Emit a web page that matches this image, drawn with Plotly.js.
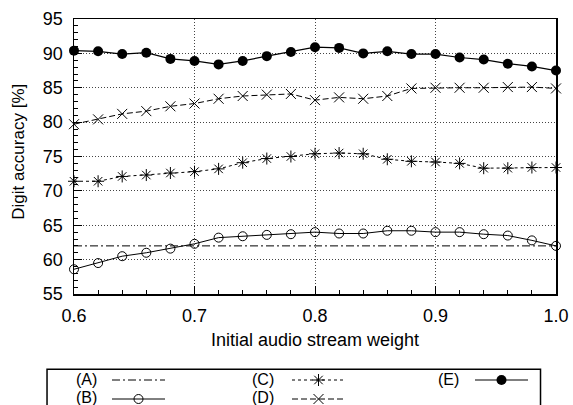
<!DOCTYPE html>
<html>
<head>
<meta charset="utf-8">
<script src="https://cdn.plot.ly/plotly-3.0.1.min.js"></script>
<style>html,body{margin:0;padding:0;background:#fff;}#chart{width:573px;height:405px;}</style>
</head>
<body>
<div id="chart"></div>
<script>
// Data
const weights = [0.60,0.62,0.64,0.66,0.68,0.70,0.72,0.74,0.76,0.78,0.80,0.82,0.84,0.86,0.88,0.90,0.92,0.94,0.96,0.98,1.00];
const seriesA_x = [0.60, 1.00];
const seriesA = [62.0, 62.0];
const seriesB = [58.6,59.5,60.5,61.0,61.6,62.3,63.2,63.4,63.6,63.7,64.0,63.8,63.8,64.2,64.2,64.0,64.0,63.7,63.5,62.8,62.0];
const seriesC = [71.4,71.4,72.1,72.3,72.6,72.8,73.2,74.1,74.7,75.0,75.4,75.5,75.4,74.6,74.3,74.2,74.0,73.3,73.3,73.4,73.4];
const seriesD = [79.7,80.4,81.2,81.6,82.3,82.7,83.4,83.8,84.0,84.1,83.2,83.6,83.4,83.8,84.9,85.0,85.0,85.0,85.1,85.1,84.9];
const seriesE = [90.4,90.3,89.9,90.1,89.2,88.9,88.4,88.9,89.6,90.2,90.9,90.8,90.0,90.3,89.9,89.9,89.4,89.1,88.5,88.1,87.5];
const labels = ['(A)','(B)','(C)','(D)','(E)'];
const xTitle = 'Initial audio stream weight';
const yTitle = 'Digit accuracy [%]';

const FONT = 'Liberation Sans, Arial, Helvetica, sans-serif';
const blk = '#000';

const traces = [
  {x: seriesA_x, y: seriesA, mode: 'lines', name: '', legend: 'legend',
   line: {color: blk, width: 1, dash: '8px,3px,2px,3px'}, cliponaxis: false},
  {x: weights, y: seriesB, mode: 'lines+markers', name: '', legend: 'legend',
   line: {color: blk, width: 1}, marker: {symbol: 'circle-open', size: 9, color: blk, line: {width: 1, color: blk}}, cliponaxis: false},
  {x: weights, y: seriesC, mode: 'lines+markers', name: '', legend: 'legend2',
   line: {color: blk, width: 1, dash: '3px,3px'}, marker: {symbol: 'asterisk-open', size: 10, color: blk, line: {width: 1, color: blk}}, cliponaxis: false},
  {x: weights, y: seriesD, mode: 'lines+markers', name: '', legend: 'legend2',
   line: {color: blk, width: 1, dash: '6px,3px'}, marker: {symbol: 'x-thin-open', size: 10, color: blk, line: {width: 1, color: blk}}, cliponaxis: false},
  {x: weights, y: seriesE, mode: 'lines+markers', name: '', legend: 'legend3',
   line: {color: blk, width: 1.2}, marker: {symbol: 'circle', size: 10, color: blk}, cliponaxis: false}
];

const legendBase = {
  xref: 'container', yref: 'container', xanchor: 'left', yanchor: 'top',
  orientation: 'v', bgcolor: 'rgba(0,0,0,0)', borderwidth: 0,
  font: {family: FONT, size: 10, color: blk}, itemwidth: 53, tracegroupgap: 0
};

// helpers to convert pixel positions in the figure to paper coords
const L = 74, R = 16.5, T = 19, B = 110.5, W = 573, H = 405;
const pw = W - L - R, ph = H - T - B;
const px = v => (v - L) / pw;
const py = v => (H - B - v) / ph;

const annFont = {family: FONT, size: 16, color: blk};
const annotations = [
  {text: labels[0], x: px(99), y: py(380)},
  {text: labels[1], x: px(99), y: py(398)},
  {text: labels[2], x: px(276), y: py(380)},
  {text: labels[3], x: px(276), y: py(398)},
  {text: labels[4], x: px(461), y: py(380)}
].map(a => Object.assign(a, {xref: 'paper', yref: 'paper', xanchor: 'right', yanchor: 'middle', showarrow: false, font: annFont}));

// y-axis title drawn as a rotated annotation
annotations.push({text: yTitle, textangle: -90, xref: 'paper', yref: 'paper', x: px(19), y: py(152),
  xanchor: 'center', yanchor: 'middle', showarrow: false, font: {family: FONT, size: 17, color: blk}});

const layout = {
  width: W, height: H,
  margin: {l: L, r: R, t: T, b: B, autoexpand: false},
  paper_bgcolor: '#fff', plot_bgcolor: '#fff',
  font: {family: FONT, size: 18, color: blk},
  showlegend: true,
  legend: Object.assign({}, legendBase, {x: 107 / W, y: 1 - 365.5 / H}),
  legend2: Object.assign({}, legendBase, {x: 287 / W, y: 1 - 365.5 / H}),
  legend3: Object.assign({}, legendBase, {x: 470 / W, y: 1 - 365.5 / H}),
  xaxis: {
    range: [0.6, 1.0], dtick: 0.1, tick0: 0.6, tickformat: '.1f',
    ticks: 'inside', ticklen: 8, tickwidth: 1, tickcolor: blk,
    minor: {dtick: 0.02, ticks: 'inside', ticklen: 4, tickcolor: blk, tickwidth: 1, showgrid: false},
    showline: true, linecolor: blk, linewidth: 1.5, mirror: true,
    showgrid: true, gridcolor: '#444', gridwidth: 1, griddash: '1px,2px',
    zeroline: false, ticklabelstandoff: 5,
    tickfont: {family: FONT, size: 18, color: blk},
    title: {text: xTitle, font: {family: FONT, size: 18, color: blk}, standoff: 8}
  },
  yaxis: {
    range: [55, 95], dtick: 5, tick0: 55,
    ticks: 'inside', ticklen: 8, tickwidth: 1, tickcolor: blk,
    minor: {dtick: 1, ticks: 'inside', ticklen: 4, tickcolor: blk, tickwidth: 1, showgrid: false},
    showline: true, linecolor: blk, linewidth: 1.5, mirror: true,
    showgrid: true, gridcolor: '#444', gridwidth: 1, griddash: '1px,2px',
    zeroline: false, ticklabelstandoff: 6,
    tickfont: {family: FONT, size: 18, color: blk}
  },
  shapes: [
    {type: 'rect', xref: 'paper', yref: 'paper', x0: px(47), x1: px(541), y0: py(370), y1: py(440),
     line: {color: blk, width: 1.5}, fillcolor: 'rgba(0,0,0,0)', layer: 'above'}
  ],
  annotations: annotations
};

Plotly.newPlot('chart', traces, layout, {displayModeBar: false, staticPlot: true});
</script>
</body>
</html>
